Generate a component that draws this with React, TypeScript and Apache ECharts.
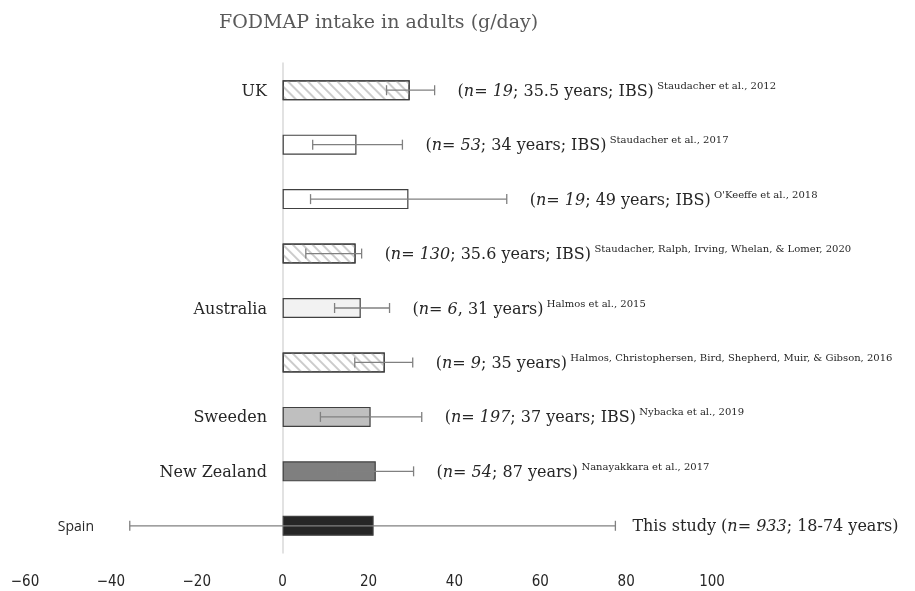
import React, { useEffect, useRef } from "react";
import * as echarts from "echarts";

const categories = ["UK", "", "", "", "Australia", "", "Sweeden", "New Zealand", "Spain"];
const means = [29.6, 17.2, 29.3, 17.0, 18.2, 23.8, 20.5, 21.7, 21.2];
const errLow = [24.2, 7.0, 6.5, 5.4, 12.1, 16.8, 8.8, 12.8, -35.6];
const errHigh = [35.4, 27.9, 52.2, 18.4, 24.9, 30.3, 32.4, 30.5, 77.5];
const fills = ["#ffffff", "#ffffff", "#ffffff", "#ffffff", "#f2f2f2", "#ffffff", "#bfbfbf", "#7f7f7f", "#262626"];
const hatched = [true, false, false, true, false, true, false, false, false];
const prefixes = ["(", "(", "(", "(", "(", "(", "(", "(", "This study ("];
const nLabels = ["n= 19", "n= 53", "n= 19", "n= 130", "n= 6", "n= 9", "n= 197", "n= 54", "n= 933"];
const details = [
  "; 35.5 years; IBS)",
  "; 34 years; IBS)",
  "; 49 years; IBS)",
  "; 35.6 years; IBS)",
  ", 31 years)",
  "; 35 years)",
  "; 37 years; IBS)",
  "; 87 years)",
  "; 18-74 years)",
];
const citations = [
  "Staudacher et al., 2012",
  "Staudacher et al., 2017",
  "O'Keeffe et al., 2018",
  "Staudacher, Ralph, Irving, Whelan, & Lomer, 2020",
  "Halmos et al., 2015",
  "Halmos, Christophersen, Bird, Shepherd, Muir, & Gibson, 2016",
  "Nybacka et al., 2019",
  "Nanayakkara et al., 2017",
  "",
];
const xTicks = { min: -60, max: 100, interval: 20 };
const titleText = "FODMAP intake in adults (g/day)";

const SERIF = "'DejaVu Serif', 'Liberation Serif', serif";
const TEXT = "#262626";

export default function App() {
  const ref = useRef<HTMLDivElement>(null);
  useEffect(() => {
    if (!ref.current) return;
    const chart = echarts.init(ref.current, undefined, { renderer: "svg" });
    const barData = means.map((v, i) => ({
      value: v,
      itemStyle: {
        color: fills[i],
        borderColor: "#404040",
        borderWidth: 1.2,
        decal: hatched[i]
          ? {
              symbol: "rect",
              color: "#cccccc",
              dashArrayX: [1, 0],
              dashArrayY: [1.2, 4.5],
              rotation: Math.PI / 4,
              symbolSize: 1,
            }
          : "none",
      },
    }));
    const errData = means.map((_, i) => [i, errLow[i], errHigh[i]]);
    chart.setOption({
      animation: false,
      aria: { decal: { show: true } },
      title: {
        text: titleText,
        left: 214,
        top: 6,
        textStyle: { fontFamily: SERIF, fontSize: 19, fontWeight: "normal", color: "#595959" },
      },
      grid: { left: 25, right: 203, top: 63, bottom: 38, containLabel: false, outerBoundsMode: "none" },
      xAxis: {
        type: "value",
        min: xTicks.min,
        max: xTicks.max,
        interval: xTicks.interval,
        axisLine: { show: false },
        axisTick: { show: false },
        splitLine: { show: false },
        axisLabel: {
          margin: 20,
          color: TEXT,
          fontSize: 15,
          fontFamily: "'Liberation Sans Narrow', 'DejaVu Sans Condensed', 'Liberation Sans', sans-serif",
          formatter: (v: number) => (v < 0 ? "\u2212" + Math.abs(v) : String(v)),
        },
      },
      yAxis: {
        type: "category",
        data: categories,
        inverse: true,
        axisTick: { show: false },
        axisLine: { show: true, onZero: true, lineStyle: { color: "#d9d9d9", width: 1.5 } },
        axisLabel: {
          margin: -242,
          color: TEXT,
          fontFamily: SERIF,
          fontSize: 16,
          formatter: (v: string) => (v === "Spain" ? "{s|" + v + "}" : v),
          rich: {
            s: {
              fontFamily: "'Open Sans', 'Liberation Sans', sans-serif",
              fontSize: 14,
              color: TEXT,
              padding: [0, 173, 0, 0],
            },
          },
        },
      },
      series: [
        {
          type: "bar",
          data: barData,
          barWidth: 20,
          z: 2,
        },
        {
          type: "custom",
          z: 3,
          encode: { x: [1, 2], y: 0 },
          data: errData,
          renderItem: (params: any, api: any) => {
            const idx = api.value(0);
            const lo = api.coord([api.value(1), idx]);
            const hi = api.coord([api.value(2), idx]);
            const y = lo[1];
            const cap = 5;
            const st = { stroke: "#808080", lineWidth: 1.3 };
            const text =
              "{b|" + prefixes[idx] + "}{i|" + nLabels[idx] + "}{b|" + details[idx] + "}" +
              (citations[idx] ? " {c|" + citations[idx] + "}" : "");
            return {
              type: "group",
              children: [
                { type: "line", shape: { x1: lo[0], y1: y, x2: hi[0], y2: y }, style: st },
                { type: "line", shape: { x1: lo[0], y1: y - cap, x2: lo[0], y2: y + cap }, style: st },
                { type: "line", shape: { x1: hi[0], y1: y - cap, x2: hi[0], y2: y + cap }, style: st },
                {
                  type: "text",
                  x: hi[0] + (idx === 8 ? 17 : 23),
                  y: y,
                  style: {
                    text,
                    verticalAlign: "middle",
                    align: "left",
                    rich: {
                      b: { fontFamily: SERIF, fontSize: 16, fill: TEXT, lineHeight: 22, verticalAlign: "middle" },
                      i: { fontFamily: SERIF, fontSize: 16, fontStyle: "italic", fill: TEXT, lineHeight: 22, verticalAlign: "middle" },
                      c: { fontFamily: SERIF, fontSize: 10, fill: TEXT, lineHeight: 22, verticalAlign: "top", padding: [1, 0, 0, 0] },
                    },
                  },
                },
              ],
            };
          },
        },
      ],
    });
    return () => chart.dispose();
  }, []);
  return <div ref={ref} style={{ position: "fixed", left: 0, top: 0, width: 915, height: 591 }} />;
}
